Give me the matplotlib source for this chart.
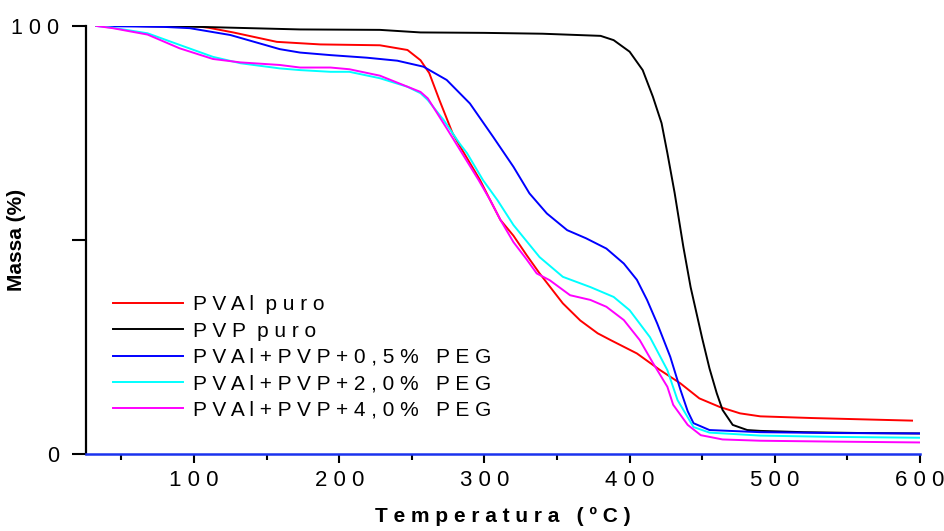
import matplotlib
matplotlib.use("Agg")
import matplotlib.pyplot as plt

plt.rcParams["font.family"] = ["Liberation Sans", "DejaVu Sans"]

# PVAl puro
temp_pval = [33, 60, 90, 100, 110, 127, 157, 187, 228, 247, 256, 262, 269, 278, 283,
             297, 304, 311, 320, 329, 338, 354, 366, 378, 387, 405, 421, 435, 448, 462,
             476, 490, 526, 560, 594.5]
mass_pval = [100, 100, 99.9, 100, 99.6, 98.5, 96.3, 95.7, 95.5, 94.4, 92.0, 89.0, 82.7, 75.0, 72.0,
             64.0, 59.3, 54.7, 51.0, 46.5, 42.2, 35.2, 31.2, 28.2, 26.6, 23.5, 19.6, 16.5, 13.0, 11.0,
             9.5, 8.8, 8.4, 8.1, 7.8]

# PVP puro
temp_pvp = [33, 60, 104, 173, 228, 256, 300, 340, 380, 389, 400, 409, 416, 422, 426,
            431, 437, 442, 450, 455, 460, 464, 471, 481, 490, 520, 560, 600]
mass_pvp = [100, 100, 99.8, 99.2, 99.1, 98.5, 98.4, 98.2, 97.7, 96.7, 94.0, 89.7, 83.5, 77.3, 70.3,
            61.0, 48.4, 39.0, 27.0, 20.0, 14.2, 10.3, 6.8, 5.6, 5.4, 5.1, 4.9, 4.8]

# PVAl+PVP+0,5% PEG
temp_peg05 = [33, 79, 97, 125, 159, 173, 194, 219, 240, 258, 274, 290, 306, 320, 331, 343,
              357, 370, 384, 396, 405, 412, 419, 428, 435, 440, 444, 455, 490, 540, 600]
mass_peg05 = [100, 99.8, 99.5, 97.9, 94.6, 93.8, 93.2, 92.6, 91.9, 90.5, 87.4, 81.9, 74.1, 67.1, 60.9, 56.2,
              52.3, 50.4, 48.0, 44.5, 40.7, 36.0, 30.5, 22.7, 15.0, 10.0, 7.2, 5.6, 5.1, 4.9, 4.8]

# PVAl+PVP+2,0% PEG
temp_peg20 = [33, 44, 68, 90, 113, 132, 159, 173, 194, 207, 228, 247, 256, 261, 272, 283, 288,
              299, 309, 320, 338, 354, 373, 389, 400, 414, 426, 433, 444, 455, 490, 540, 600]
mass_peg20 = [100, 99.6, 98.3, 95.6, 92.8, 91.3, 90.1, 89.7, 89.3, 89.3, 87.8, 85.8, 84.3, 82.7, 78.0, 72.5, 70.3,
              64.0, 59.3, 53.5, 46.0, 41.4, 39.0, 36.7, 33.6, 27.3, 19.6, 12.6, 6.3, 5.0, 4.3, 4.0, 3.8]

# PVAl+PVP+4,0% PEG
temp_peg40 = [33, 44, 68, 90, 113, 132, 159, 173, 194, 207, 228, 256, 261, 274, 296, 304, 311,
              320, 329, 336, 345, 359, 373, 384, 396, 407, 416, 426, 430, 440, 449, 464, 490, 540, 600]
mass_peg40 = [100, 99.5, 98.0, 94.8, 92.3, 91.5, 90.9, 90.3, 90.3, 89.9, 88.4, 84.6, 83.1, 76.1, 64.0, 59.3, 54.7,
              49.5, 45.5, 42.2, 40.6, 37.1, 36.0, 34.4, 31.3, 26.6, 21.3, 15.7, 11.5, 6.8, 4.4, 3.4, 3.1, 2.9, 2.7]

labels = [
    "P V A l  p u r o",
    "P V P  p u r o",
    "P V A l + P V P + 0 , 5 %   P E G",
    "P V A l + P V P + 2 , 0 %   P E G",
    "P V A l + P V P + 4 , 0 %   P E G",
]
colors = ["#ff0000", "#000000", "#0000ff", "#00ffff", "#ff00ff"]

x_major = [100, 200, 300, 400, 500, 600]
x_minor = [50, 150, 250, 350, 450, 550]
y_ticks = [0, 50, 100]
y_ticklabels = ["0", "", "1 0 0"]

fig = plt.figure(figsize=(9.44, 5.31), dpi=100)
ax = fig.add_axes([0.0911, 0.145, 0.8835, 0.806])

series = [
    (temp_pval, mass_pval),
    (temp_pvp, mass_pvp),
    (temp_peg05, mass_peg05),
    (temp_peg20, mass_peg20),
    (temp_peg40, mass_peg40),
]
for (t, m), lab, col in zip(series, labels, colors):
    ax.plot(t, m, color=col, linewidth=1.4, label=lab, solid_joinstyle="round")

ax.set_xlim(25.6, 600)
ax.set_ylim(0, 100)

for side in ("top", "right"):
    ax.spines[side].set_visible(False)
ax.spines["left"].set_linewidth(1.6)
ax.spines["bottom"].set_linewidth(1.8)
ax.spines["bottom"].set_color("#1a33ee")

ax.set_xticks(x_major)
ax.set_xticklabels([" ".join(str(v)) for v in x_major])
ax.set_xticks(x_minor, minor=True)
ax.set_yticks(y_ticks)
ax.set_yticklabels(y_ticklabels)

ax.tick_params(axis="x", which="major", direction="out", length=6.5, width=1.5,
               labelsize=16, pad=5, color="black")
ax.tick_params(axis="x", which="minor", direction="out", length=4, width=1.5, color="black")
ax.tick_params(axis="y", which="major", direction="out", length=10, width=1.5,
               labelsize=15.5, pad=9)

ax.set_xlabel("T e m p e r a t u r a   ( º C )", fontsize=15, fontweight="bold", va="top")
ax.xaxis.set_label_coords(0.5, -0.124)
ax.set_ylabel("Massa (%)", fontsize=15, fontweight="bold")
ax.yaxis.set_label_coords(-0.072, 0.5)

ax.legend(loc="upper left", bbox_to_anchor=(0.032, 0.371), frameon=False,
          fontsize=15, handlelength=3.37, handletextpad=0.48, labelspacing=0.35,
          borderaxespad=0, borderpad=0)

fig.savefig("out.png", dpi=100)
